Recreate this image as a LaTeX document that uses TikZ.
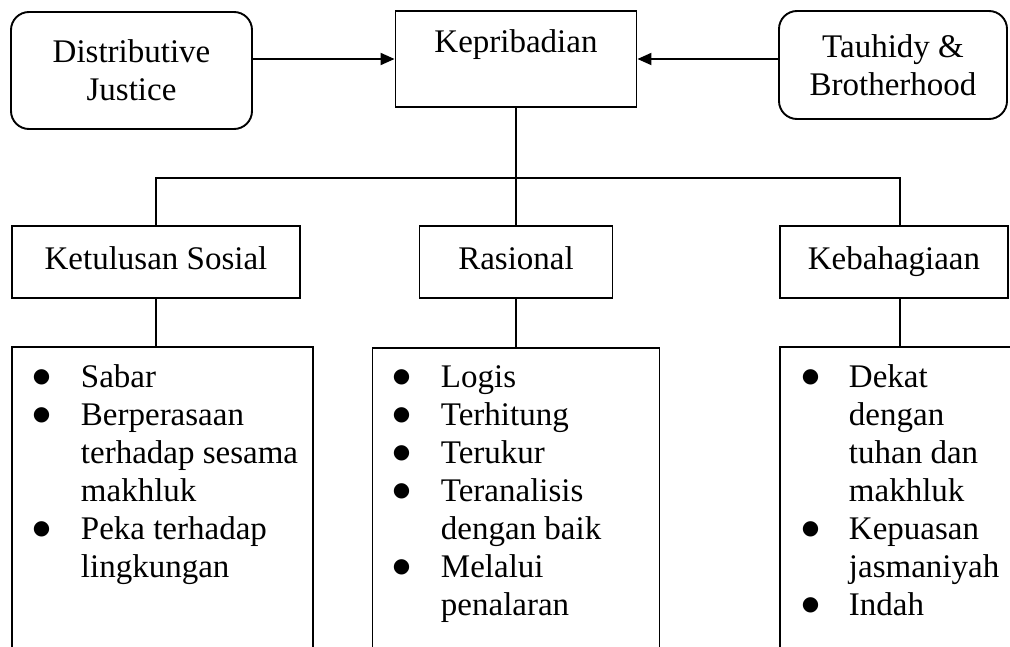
\documentclass[tikz,border=0pt]{standalone}
\usepackage{fontspec}
\setmainfont{Liberation Serif}
\newfontfamily\symfont{DejaVu Sans}
\usetikzlibrary{arrows.meta, positioning}

\newcommand{\bul}{\raisebox{5pt}{\symfont\fontsize{20}{20}\selectfont ●}}

\begin{document}
\begin{tikzpicture}[
    x=1pt, y=-1pt,
    line width=1.9pt,
    every node/.style={font=\fontsize{33}{38}\selectfont},
    rbox/.style={draw, rounded corners=18pt, align=center},
    sbox/.style={draw, rectangle, minimum height=72pt, text height=23pt, text depth=8pt},
    col/.style={draw, rectangle, minimum height=360pt},
    items/.style={anchor=north west, inner sep=0pt},
    arrow/.style={-{Triangle[length=14pt, width=12pt]}}
]
\path[use as bounding box, clip] (0,0) rectangle (1010,647);

% Nodes (top row)
\node[draw, rectangle, minimum width=241pt, text height=23pt, text depth=35pt, inner ysep=19pt] (kepribadian) at (516,59) {Kepribadian};
\node[rbox, minimum width=241pt, minimum height=117pt] (distjustice) at (131.5,70.5) {Distributive\\Justice};
\node[rbox, minimum width=228pt, minimum height=108pt] (tauhidy) at (893,65) {Tauhidy \&\\Brotherhood};

% Nodes (middle row)
\node[sbox, minimum width=288pt] (sosial) at (156,262) {Ketulusan Sosial};
\node[sbox, minimum width=193pt] (rasional) at (516,262) {Rasional};
\node[sbox, minimum width=228pt] (kebahagiaan) at (894,262) {Kebahagiaan};

% Columns (bottom row)
\node[col, minimum width=301pt, anchor=north west] (sosialcol) at (11,346) {};
\node[col, minimum width=287pt, below=48pt of rasional] (rasionalcol) {};
\node[col, minimum width=261pt, anchor=north west] (bahagiacol) at (779,346) {};

% Lists
\node[items] (sosiallist) at (32,360.4) {\begin{tabular}{@{}p{48pt}@{}l@{}}
\bul & Sabar\\
\bul & Berperasaan\\
 & terhadap sesama\\
 & makhluk\\
\bul & Peka terhadap\\
 & lingkungan
\end{tabular}};
\node[items] (rasionallist) at (392,360.4) {\begin{tabular}{@{}p{48pt}@{}l@{}}
\bul & Logis\\
\bul & Terhitung\\
\bul & Terukur\\
\bul & Teranalisis\\
 & dengan baik\\
\bul & Melalui\\
 & penalaran
\end{tabular}};
\node[items] (bahagialist) at (801,360.4) {\begin{tabular}{@{}p{47pt}@{}l@{}}
\bul & Dekat\\
 & dengan\\
 & tuhan dan\\
 & makhluk\\
\bul & Kepuasan\\
 & jasmaniyah\\
\bul & Indah
\end{tabular}};

% Arrows into Kepribadian
\draw[arrow] (distjustice.east |- kepribadian.west) -- (kepribadian.west);
\draw[arrow] (tauhidy.west |- kepribadian.east) -- (kepribadian.east);

% Tree lines
\coordinate (junction) at (516,178);
\draw (kepribadian.south) -- (rasional.north);
\draw (sosial.north) |- (junction) -| ([xshift=6pt]kebahagiaan.north);

\draw (sosial.south) -- (sosial.south |- sosialcol.north);
\draw (rasional.south) -- (rasionalcol.north);
\draw ([xshift=6pt]kebahagiaan.south) -- ([xshift=6pt]kebahagiaan.south |- bahagiacol.north);

\end{tikzpicture}
\end{document}
